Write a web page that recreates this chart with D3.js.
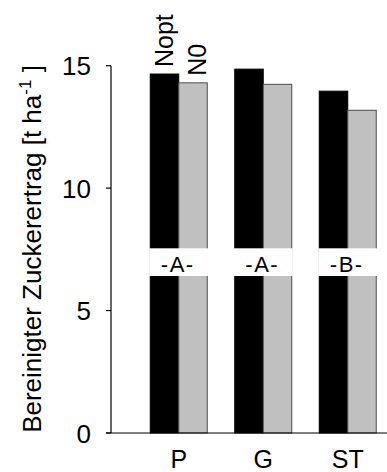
<!DOCTYPE html>
<html>
<head>
    <title>zuckerertrag</title>
    <script src="https://d3js.org/d3.v7.min.js"></script>
    <style>
        body { margin: 0; background: #fff; }
        text { font-family: "Liberation Sans", Arial, sans-serif; fill: #000; }
        .tick-label { font-size: 26px; }
        .group-label { font-size: 25px; }
        .sig-label { font-size: 22px; letter-spacing: 1.5px; }
        .series-label { font-size: 25px; }
        .axis-title { font-size: 26px; }
    </style>
</head>
<body>
    <script>
        var groups = ["P", "G", "ST"];
        var seriesNames = ["Nopt", "N0"];
        var nopt = [14.66, 14.86, 13.96];
        var n0 = [14.30, 14.24, 13.18];
        var sigLetters = ["-A-", "-A-", "-B-"];
        var yTicks = [0, 5, 10, 15];

        var width = 387, height = 472;
        var axisX = 111, baseY = 433;
        var barW = 28.5;

        var svg = d3.select("body").append("svg")
            .attr("width", width)
            .attr("height", height);

        var y = d3.scaleLinear().domain([0, 15]).range([baseY, 65.7]);
        var x = d3.scaleBand().domain(groups).range([136.5, 390]).padding(0);

        // bars
        var colors = ["#000000", "#c0c0c0"];
        var strokes = ["#000000", "#4d4d4d"];
        [nopt, n0].forEach(function (vals, s) {
            svg.selectAll(".bar-" + s)
                .data(vals).enter().append("rect")
                .attr("class", "bar-" + s)
                .attr("x", function (d, i) { return x(groups[i]) + x.bandwidth() / 2 - barW + s * barW; })
                .attr("y", function (d) { return y(d); })
                .attr("width", barW)
                .attr("height", function (d) { return baseY - y(d); })
                .attr("fill", colors[s])
                .attr("stroke", strokes[s])
                .attr("stroke-width", 1);
        });

        // white boxes with significance letters
        svg.selectAll(".sig-box")
            .data(sigLetters).enter().append("rect")
            .attr("class", "sig-box")
            .attr("x", function (d, i) { return x(groups[i]) + x.bandwidth() / 2 - barW - 1; })
            .attr("y", 248.3)
            .attr("width", barW * 2 + 2)
            .attr("height", 27.7)
            .attr("fill", "#fff");

        svg.selectAll(".sig-label")
            .data(sigLetters).enter().append("text")
            .attr("class", "sig-label")
            .attr("text-anchor", "middle")
            .attr("x", function (d, i) { return x(groups[i]) + x.bandwidth() / 2 - 1; })
            .attr("y", 271.5)
            .text(function (d) { return d; });

        // axes
        svg.append("line")
            .attr("x1", axisX).attr("x2", axisX)
            .attr("y1", y(15)).attr("y2", baseY)
            .attr("stroke", "#000").attr("stroke-width", 1.2);
        svg.append("line")
            .attr("x1", axisX - 5).attr("x2", width)
            .attr("y1", baseY).attr("y2", baseY)
            .attr("stroke", "#000").attr("stroke-width", 1.2);

        svg.selectAll(".y-tick")
            .data(yTicks).enter().append("line")
            .attr("class", "y-tick")
            .attr("x1", axisX - 5).attr("x2", axisX)
            .attr("y1", function (d) { return y(d); })
            .attr("y2", function (d) { return y(d); })
            .attr("stroke", "#000").attr("stroke-width", 1.2);

        svg.selectAll(".tick-label")
            .data(yTicks).enter().append("text")
            .attr("class", "tick-label")
            .attr("text-anchor", "end")
            .attr("x", 91)
            .attr("y", function (d) { return y(d) + 9.5; })
            .text(function (d) { return d; });

        svg.selectAll(".group-label")
            .data(groups).enter().append("text")
            .attr("class", "group-label")
            .attr("text-anchor", "middle")
            .attr("x", function (d) { return x(d) + x.bandwidth() / 2; })
            .attr("y", 468)
            .text(function (d) { return d; });

        // series labels over first group
        var seriesTops = [nopt[0], n0[0]];
        svg.selectAll(".series-label")
            .data(seriesNames).enter().append("text")
            .attr("class", "series-label")
            .attr("transform", function (d, i) {
                var cx = x(groups[0]) + x.bandwidth() / 2 - barW + i * barW + barW / 2;
                return "translate(" + (cx + 8.5 + i * 4.5) + "," + (y(seriesTops[i]) - 7) + ") rotate(-90)";
            })
            .text(function (d) { return d; });

        // y axis title
        var title = svg.append("text")
            .attr("class", "axis-title")
            .attr("text-anchor", "middle")
            .attr("transform", "translate(40.5,249) rotate(-90)");
        title.append("tspan").text("Bereinigter Zuckerertrag [t ha");
        title.append("tspan").attr("dy", -10).style("font-size", "17px").text("-1");
        title.append("tspan").attr("dy", 10).text(" ]");
    </script>
</body>
</html>
